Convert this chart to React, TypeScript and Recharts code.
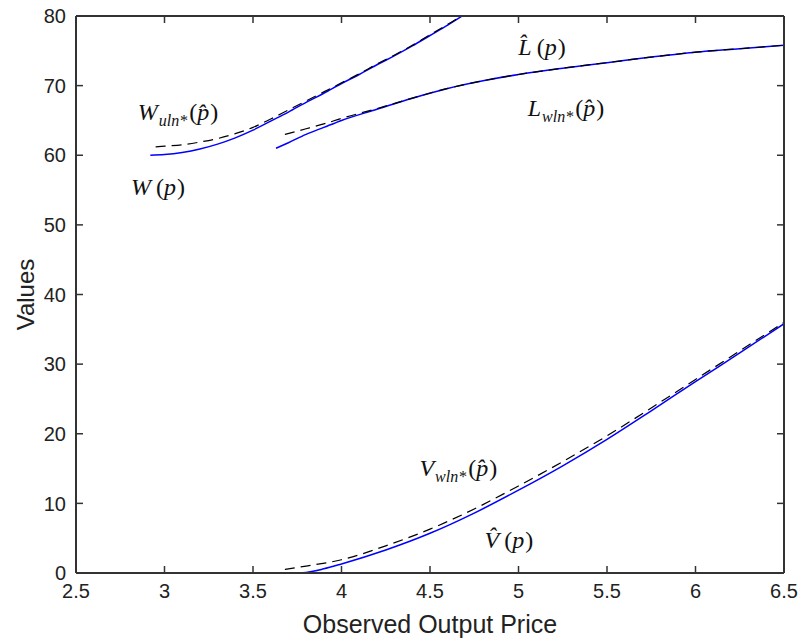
import React from "react";
import { LineChart, Line, XAxis, YAxis, ReferenceDot } from "recharts";

// W(p) and W_uln*(p^)
const wTrueP = [2.92, 3.0, 3.1, 3.2, 3.3, 3.4, 3.5, 3.6, 3.7, 3.8, 3.9, 4.0, 4.1, 4.2, 4.3, 4.4, 4.5, 4.6, 4.7];
const wTrueV = [60.0, 60.1, 60.4, 60.9, 61.6, 62.5, 63.6, 64.9, 66.2, 67.6, 68.9, 70.3, 71.6, 73.0, 74.3, 75.7, 77.2, 78.7, 80.3];
const wEstP = [2.95, 3.0, 3.1, 3.2, 3.3, 3.4, 3.5, 3.6, 3.7, 3.8, 3.9, 4.0, 4.1, 4.2, 4.3, 4.4, 4.5, 4.6, 4.7];
const wEstV = [61.2, 61.3, 61.5, 61.9, 62.4, 63.1, 64.0, 65.2, 66.5, 67.8, 69.1, 70.4, 71.7, 73.1, 74.4, 75.8, 77.3, 78.8, 80.4];

// L^(p) and L_wln*(p^)
const lTrueP = [3.63, 3.7, 3.8, 3.9, 4.0, 4.2, 4.4, 4.6, 4.8, 5.0, 5.25, 5.5, 5.75, 6.0, 6.25, 6.5];
const lTrueV = [61.0, 61.8, 63.0, 64.0, 65.0, 66.6, 68.2, 69.6, 70.7, 71.6, 72.5, 73.3, 74.1, 74.8, 75.3, 75.8];
const lEstP = [3.68, 3.8, 3.9, 4.0, 4.2, 4.4, 4.6, 4.8, 5.0, 5.25, 5.5, 5.75, 6.0, 6.25, 6.5];
const lEstV = [63.0, 63.8, 64.5, 65.3, 66.7, 68.2, 69.6, 70.7, 71.6, 72.5, 73.3, 74.1, 74.8, 75.3, 75.8];

// V^(p) and V_wln*(p^)
const vTrueP = [3.64, 3.7, 3.78, 3.9, 4.0, 4.25, 4.5, 4.75, 5.0, 5.25, 5.5, 5.75, 6.0, 6.25, 6.5];
const vTrueV = [0, 0, 0.05, 0.6, 1.3, 3.3, 5.7, 8.6, 11.9, 15.4, 19.2, 23.3, 27.5, 31.6, 35.8];
const vEstP = [3.68, 3.8, 4.0, 4.25, 4.5, 4.75, 5.0, 5.25, 5.5, 5.75, 6.0, 6.25, 6.5];
const vEstV = [0.5, 1.0, 1.9, 3.9, 6.3, 9.2, 12.5, 16.0, 19.7, 23.7, 27.8, 31.9, 36.0];

const xTicks = [2.5, 3, 3.5, 4, 4.5, 5, 5.5, 6, 6.5];
const yTicks = [0, 10, 20, 30, 40, 50, 60, 70, 80];

const zip = (ps: number[], vs: number[]) => ps.map((p, i) => ({ p, v: vs[i] }));

const sans = '"Liberation Sans", Arial, Helvetica, sans-serif';
const serif = '"Liberation Serif", "Times New Roman", serif';
const axisColor = "#333";
const tickLen = 7;

const BottomTick = (props: any) => {
  const { x, y, payload } = props;
  const axisY = y - 11;
  return (
    <g>
      <line x1={x} y1={axisY} x2={x} y2={axisY - tickLen} stroke={axisColor} strokeWidth={1.5} />
      <text x={x} y={y} dy="0.72em" textAnchor="middle" fontFamily={sans} fontSize={20} fill="#222">
        {payload.value}
      </text>
    </g>
  );
};

const LeftTick = (props: any) => {
  const { x, y, payload } = props;
  const axisX = x + 10;
  return (
    <g>
      <line x1={axisX} y1={y} x2={axisX + tickLen} y2={y} stroke={axisColor} strokeWidth={1.5} />
      <text x={x} y={y} dy="0.36em" textAnchor="end" fontFamily={sans} fontSize={20} fill="#222">
        {payload.value}
      </text>
    </g>
  );
};

const TopTick = (props: any) => {
  const { x, y } = props;
  return <line x1={x} y1={y} x2={x} y2={y + tickLen} stroke={axisColor} strokeWidth={1.5} />;
};

const RightTick = (props: any) => {
  const { x, y } = props;
  return <line x1={x} y1={y} x2={x - tickLen} y2={y} stroke={axisColor} strokeWidth={1.5} />;
};

// math style annotation: Base_sub(arg)
const mathLabel = (base: string, sub: string, arg: string) => (props: any) => {
  const { cx, cy } = props;
  return (
    <text x={cx} y={cy + 8} textAnchor="middle" fontFamily={serif} fontSize={24} fill="#111">
      <tspan fontStyle="italic">{base}</tspan>
      {sub ? (
        <tspan fontStyle="italic" fontSize={16} dy={6} dx={1}>
          {sub}
        </tspan>
      ) : null}
      <tspan dy={sub ? -6 : 0} dx={sub ? 2 : 5}>(</tspan>
      <tspan fontStyle="italic">{arg}</tspan>
      <tspan dx={1}>)</tspan>
    </text>
  );
};

const annotations = [
  { p: 3.076, v: 66.2, base: "W", sub: "uln*", arg: "p\u0302" },
  { p: 2.963, v: 55.5, base: "W", sub: "", arg: "p" },
  { p: 5.133, v: 75.6, base: "L\u0302", sub: "", arg: "p" },
  { p: 5.268, v: 66.8, base: "L", sub: "wln*", arg: "p\u0302" },
  { p: 4.66, v: 15.1, base: "V", sub: "wln*", arg: "p\u0302" },
  { p: 4.946, v: 4.7, base: "V\u0302", sub: "", arg: "p" },
];

const series = [
  { key: "wTrue", data: zip(wTrueP, wTrueV), dashed: false },
  { key: "lTrue", data: zip(lTrueP, lTrueV), dashed: false },
  { key: "vTrue", data: zip(vTrueP, vTrueV), dashed: false },
  { key: "wEst", data: zip(wEstP, wEstV), dashed: true },
  { key: "lEst", data: zip(lEstP, lEstV), dashed: true },
  { key: "vEst", data: zip(vEstP, vEstV), dashed: true },
];

export default function App() {
  return (
    <div style={{ width: 800, height: 644, background: "#fff" }}>
      <style>{"body{margin:0}"}</style>
      <LineChart width={800} height={644} margin={{ top: 15, right: 15, bottom: 7, left: 0 }}>
        <XAxis
          xAxisId="b"
          dataKey="p"
          type="number"
          domain={[2.5, 6.5]}
          ticks={xTicks}
          allowDataOverflow
          height={64}
          tickSize={0}
          tickMargin={11}
          tick={BottomTick}
          tickLine={false}
          axisLine={{ stroke: axisColor, strokeWidth: 2 }}
          label={{ value: "Observed Output Price", position: "insideBottom", offset: 4, fontFamily: sans, fontSize: 25, fill: "#222" }}
        />
        <XAxis
          xAxisId="t"
          orientation="top"
          dataKey="p"
          type="number"
          domain={[2.5, 6.5]}
          ticks={xTicks}
          allowDataOverflow
          height={1}
          tickSize={0}
          tickMargin={0}
          tick={TopTick}
          tickLine={false}
          axisLine={{ stroke: axisColor, strokeWidth: 2 }}
        />
        <YAxis
          yAxisId="l"
          type="number"
          domain={[0, 80]}
          ticks={yTicks}
          allowDataOverflow
          width={76}
          tickSize={0}
          tickMargin={10}
          tick={LeftTick}
          tickLine={false}
          axisLine={{ stroke: axisColor, strokeWidth: 2 }}
          label={{
            value: "Values",
            content: (props: any) => {
              const vb = props.viewBox || {};
              const cx = 25;
              const cy = (vb.y || 0) + (vb.height || 0) / 2;
              return (
                <text x={cx} y={cy} transform={`rotate(-90, ${cx}, ${cy})`} textAnchor="middle" dy="0.36em" fontFamily={sans} fontSize={24} fill="#222">
                  Values
                </text>
              );
            },
          }}
        />
        <YAxis
          yAxisId="r"
          orientation="right"
          type="number"
          domain={[0, 80]}
          ticks={yTicks}
          allowDataOverflow
          width={1}
          tickSize={0}
          tickMargin={0}
          tick={RightTick}
          tickLine={false}
          axisLine={{ stroke: axisColor, strokeWidth: 2 }}
        />
        {series.map((s) => (
          <Line
            key={s.key}
            xAxisId="b"
            yAxisId="l"
            data={s.data}
            dataKey="v"
            type="monotone"
            stroke={s.dashed ? "#000" : "#0000ff"}
            strokeWidth={s.dashed ? 1.2 : 1.5}
            strokeDasharray={s.dashed ? "10 6" : undefined}
            dot={false}
            activeDot={false}
            isAnimationActive={false}
          />
        ))}
        {annotations.map((a, i) => (
          <ReferenceDot
            key={i}
            xAxisId="b"
            yAxisId="l"
            x={a.p}
            y={a.v}
            r={0}
            shape={mathLabel(a.base, a.sub, a.arg)}
          />
        ))}
      </LineChart>
    </div>
  );
}
